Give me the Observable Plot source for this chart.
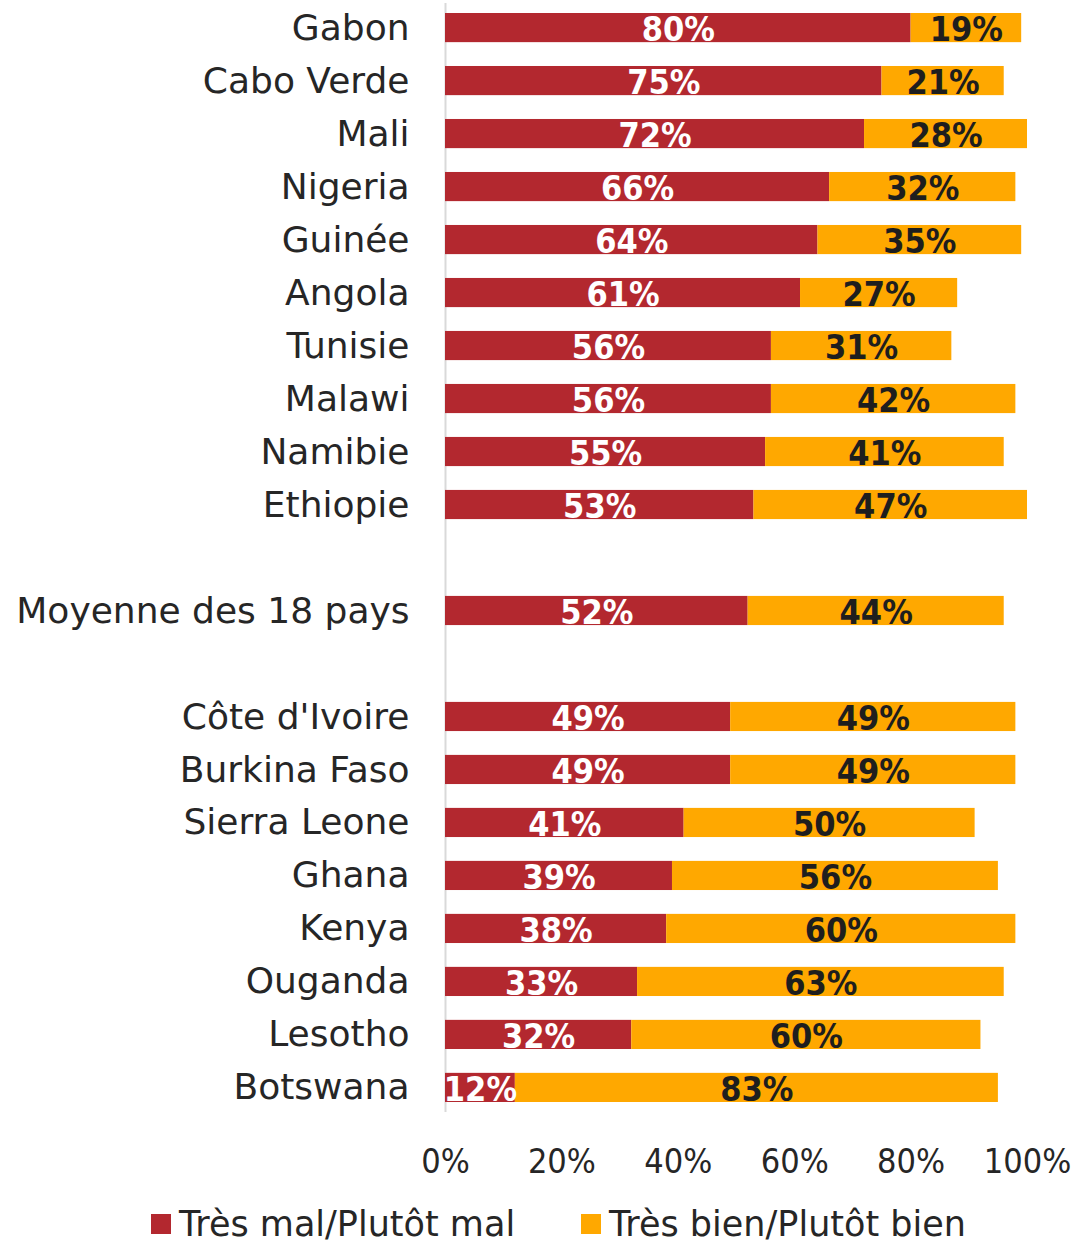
<!DOCTYPE html>
<html>
<head>
<meta charset="utf-8">
<script src="https://cdn.jsdelivr.net/npm/d3@7"></script>
<script src="https://cdn.jsdelivr.net/npm/@observablehq/plot@0.6"></script>
<style>
  body { margin: 0; background: #fff; font-family: "DejaVu Sans", sans-serif; }
  #legend { display: flex; justify-content: center; gap: 66px; font-size: 35px; line-height: 1.05; color: #262626; margin-top: 11px; padding-left: 40px; }
  #legend span.sw { display: inline-block; width: 20px; height: 20px; margin-right: 8px; vertical-align: middle; position: relative; top: -2px; }
</style>
</head>
<body>
<div id="chart"></div>
<div id="legend"></div>
<script>
const countries = ["Gabon","Cabo Verde","Mali","Nigeria","Guinée","Angola","Tunisie","Malawi","Namibie","Ethiopie"," ","Moyenne des 18 pays","  ","Côte d'Ivoire","Burkina Faso","Sierra Leone","Ghana","Kenya","Ouganda","Lesotho","Botswana"];
const badValues  = [80,75,72,66,64,61,56,56,55,53,null,52,null,49,49,41,39,38,33,32,12];
const goodValues = [19,21,28,32,35,27,31,42,41,47,null,44,null,49,49,50,56,60,63,60,83];
const seriesNames = ["Très mal/Plutôt mal","Très bien/Plutôt bien"];
const seriesColors = ["#B3282F","#FFA800"];
const xTicks = [0,20,40,60,80,100];

const data = [];
countries.forEach((c,i) => {
  if (badValues[i] == null) return;
  data.push({country: c, cat: seriesNames[0], value: badValues[i]});
  data.push({country: c, cat: seriesNames[1], value: goodValues[i]});
});

const chart = Plot.plot({
  width: 1077,
  height: 1195,
  marginLeft: 445,
  marginRight: 50,
  marginTop: 13,
  marginBottom: 93,
  style: {fontFamily: "DejaVu Sans, sans-serif", background: "#fff"},
  x: {domain: [0,100], label: null},
  y: {domain: countries, paddingInner: 0.45, paddingOuter: 0, round: false, label: null},
  color: {domain: seriesNames, range: seriesColors},
  marks: [
    Plot.ruleX([0], {stroke: "#d9d9d9", strokeWidth: 2, insetTop: -10, insetBottom: -10}),
    Plot.barX(data, Plot.stackX({x: "value", y: "country", fill: "cat", order: seriesNames})),
    Plot.text(data, Plot.stackX({x: "value", y: "country", text: d => d.value + "%", order: seriesNames,
      fill: d => d.cat === seriesNames[0] ? "white" : "#1e1e1e",
      fontSize: 34, fontWeight: "bold", fontFamily: "DejaVu Sans Condensed, DejaVu Sans, sans-serif", dy: 2})),
    Plot.axisY({tickSize: 0, tickPadding: 36, fontSize: 36, fill: "#262626", tickFormat: d => d.trim(), label: null}),
    Plot.axisX({ticks: xTicks, tickFormat: d => d + "%", tickSize: 0, tickPadding: 46, fontSize: 34,
      fontFamily: "DejaVu Sans Condensed, DejaVu Sans, sans-serif", fill: "#262626", label: null})
  ]
});
document.getElementById("chart").appendChild(chart);

const legend = document.getElementById("legend");
seriesNames.forEach((n,i) => {
  const item = document.createElement("div");
  item.innerHTML = `<span class="sw" style="background:${seriesColors[i]}"></span>${n}`;
  legend.appendChild(item);
});
</script>
</body>
</html>
